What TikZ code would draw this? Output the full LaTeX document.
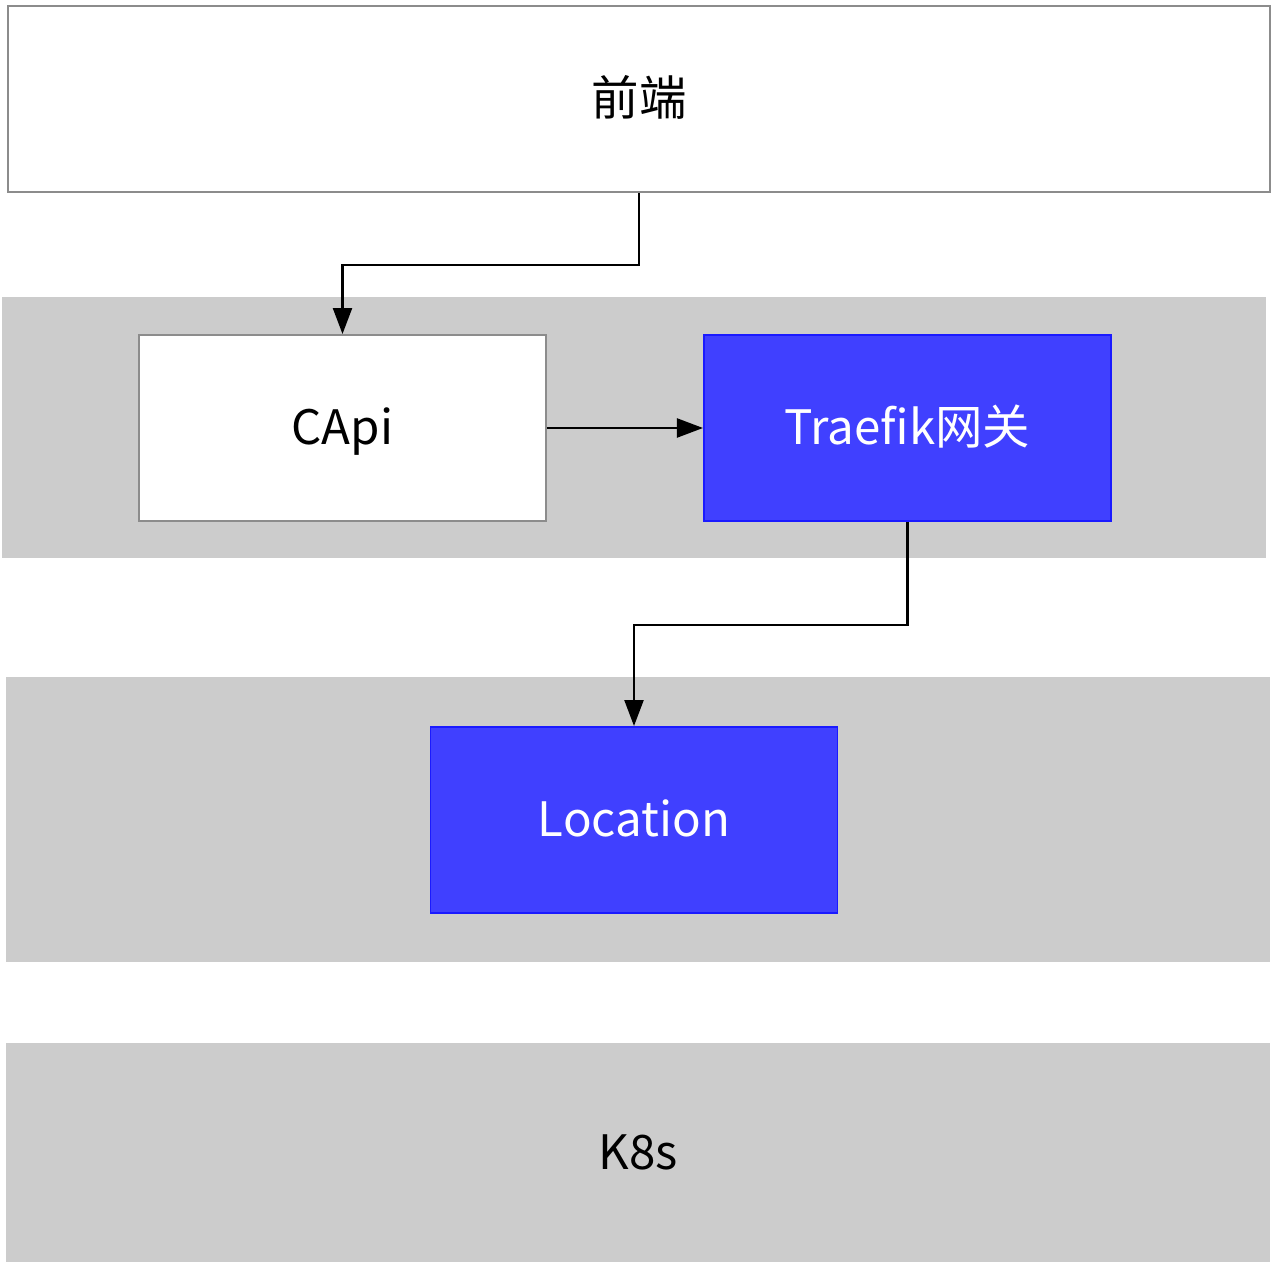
\documentclass[tikz,border=0pt]{standalone}
\usepackage{fontspec}
\setmainfont{Noto Sans CJK SC}
\usetikzlibrary{arrows.meta, positioning}

\definecolor{bandgray}{HTML}{CCCCCC}
\definecolor{boxgray}{HTML}{8C8C8C}
\definecolor{gwblue}{HTML}{4040FF}
\definecolor{gwedge}{HTML}{1A1AFF}

\begin{document}
\begin{tikzpicture}[
	every node/.style={font=\fontsize{27}{31}\selectfont, text height=0.8cm, text depth=0.12cm},
	band/.style={
		rectangle, fill=bandgray, inner sep=0pt,
		minimum width=25.28cm
	},
	block/.style={
		rectangle, draw=boxgray, fill=white, line width=1.1pt,
		minimum width=8.14cm, minimum height=3.72cm, align=center
	},
	service/.style={
		block, draw=gwedge, fill=gwblue, text=white
	},
	arrow/.style={-{Triangle[length=0.52cm, width=0.38cm]}, line width=1.3pt}
	]
	\useasboundingbox (0,0) rectangle (25.46,25.28);
	
	% Layers
	\node[block, minimum width=25.24cm] (frontend) at (12.78,23.3) {前端};
	\node[band, minimum height=5.22cm] (gateway-layer) at (12.68,16.73) {};
	\node[band, minimum height=5.70cm] (service-layer) at (12.76,8.89) {};
	\node[band, minimum height=4.38cm] (k8s) at (12.76,2.23) {K8s};
	
	% Nodes
	\node[block] (capi) at (6.85,16.72) {CApi};
	\node[service, right=3.12cm of capi] (traefik) {Traefik网关};
	\node[service] (location) at (12.68,8.88) {Location};
	
	% Arrows
	\draw[arrow] (frontend.south) -- ++(0,-1.44) -| (capi.north);
	\draw[arrow] (capi) -- (traefik);
	\draw[arrow] (traefik.south) -- ++(0,-2.06) -| (location.north);
\end{tikzpicture}
\end{document}
